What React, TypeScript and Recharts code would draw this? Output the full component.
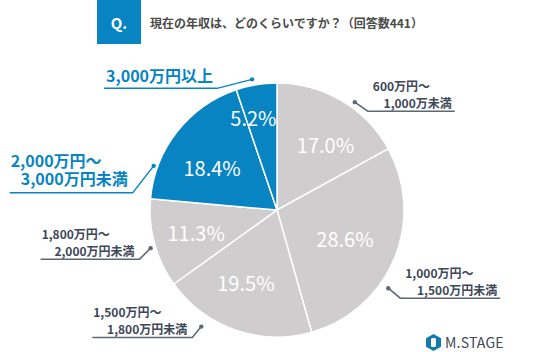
import React from 'react';
import { PieChart, Pie, Cell } from 'recharts';

// 年収分布（回答数441）
const categories = [
  ['600万円～', '1,000万未満'],
  ['1,000万円～', '1,500万円未満'],
  ['1,500万円～', '1,800万円未満'],
  ['1,800万円～', '2,000万円未満'],
  ['2,000万円～', '3,000万円未満'],
  ['3,000万円以上'],
];
const shares = [17.0, 28.6, 19.5, 11.3, 18.4, 5.2];
const highlighted = [false, false, false, false, true, true];

const BLUE = '#0784c1';
const GRAY = '#cfcdcd';
const LABEL_GRAY = '#3e4858';
const FONT = '"Noto Sans CJK JP", "Noto Sans", sans-serif';

const data = categories.map((c, i) => ({ name: c.join(''), value: shares[i] }));

// callout layout: dot angle (clockwise from top) and distance, elbow offset, line length
const callouts = [
  { angle: 35.8, dist: 133, elbow: [13, 9], len: 87 },
  { angle: 125.1, dist: 136, elbow: [12, 10], len: 100 },
  { angle: 213, dist: 139, elbow: [-9, 11], len: -100 },
  { angle: 253.2, dist: 132, elbow: [-11, 11], len: -99 },
  { angle: 289.7, dist: 131, elbow: [-21, 27], len: -123 },
  { angle: 349.2, dist: 133, elbow: [-35, 9], len: -113 },
];
// percent label radius factor / angle tweak
const pctPlace = [
  { r: 0.64, da: 6 },
  { r: 0.58, da: 0 },
  { r: 0.62, da: 4 },
  { r: 0.66, da: 0 },
  { r: 0.61, da: -5 },
  { r: 0.75, da: -5 },
];

const RAD = Math.PI / 180;

const renderLabel = (props: any) => {
  const { cx, cy, midAngle, outerRadius, index } = props;
  const p = pctPlace[index];
  const clock = 90 - midAngle + p.da;
  const px = cx + outerRadius * p.r * Math.sin(clock * RAD);
  const py = cy - outerRadius * p.r * Math.cos(clock * RAD);

  const c = callouts[index];
  const dx = cx + c.dist * Math.sin(c.angle * RAD);
  const dy = cy - c.dist * Math.cos(c.angle * RAD);
  const ex = dx + c.elbow[0];
  const ey = dy + c.elbow[1];
  const fx = ex + c.len;
  const blue = highlighted[index];
  const color = blue ? BLUE : LABEL_GRAY;
  const lineColor = blue ? BLUE : '#5f6773';
  const fs = blue ? 16 : 12;
  const lines = categories[index];
  const right = c.len > 0;
  const y1 = blue ? ey - 33 : ey - 26;
  const y2 = blue ? ey - 15 : ey - 9;

  return (
    <g>
      <text x={px} y={py} fill="#fff" fontSize={20} fontFamily={FONT} textAnchor="middle" dominantBaseline="central">
        {shares[index].toFixed(1)}%
      </text>
      <circle cx={dx} cy={dy} r={2.2} fill={lineColor} />
      <polyline points={`${dx},${dy} ${ex},${ey} ${fx},${ey}`} fill="none" stroke={lineColor} strokeWidth={1.5} />
      {lines.length === 1 ? (
        <text x={fx + 2} y={ey - 13} fill={color} fontSize={fs} fontWeight="bold" fontFamily={FONT} textAnchor="start" dominantBaseline="central">
          {lines[0]}
        </text>
      ) : (
        <>
          <text
            x={right ? ex + 5 : fx + 1}
            y={y1}
            fill={color}
            fontSize={fs}
            fontWeight="bold"
            fontFamily={FONT}
            textAnchor="start"
            dominantBaseline="central"
          >
            {lines[0]}
          </text>
          <text
            x={right ? fx - 3 : ex - 5}
            y={y2}
            fill={color}
            fontSize={fs}
            fontWeight="bold"
            fontFamily={FONT}
            textAnchor="end"
            dominantBaseline="central"
          >
            {lines[1]}
          </text>
        </>
      )}
    </g>
  );
};

const Logo = () => (
  <div style={{ position: 'absolute', left: 426, top: 334, height: 17, display: 'flex', alignItems: 'center', gap: 4 }}>
    <svg width={15} height={17} viewBox="0 0 15 17">
      <path d="M7.5 0 L15 4.25 L15 12.75 L7.5 17 L0 12.75 L0 4.25 Z" fill="#1479ad" />
      <rect x={5} y={4} width={5} height={9} rx={1.5} fill="#fff" />
    </svg>
    <span style={{ fontFamily: FONT, fontSize: 14, lineHeight: '17px', color: '#3e4858', letterSpacing: 0.2 }}>M.STAGE</span>
  </div>
);

export default function App() {
  return (
    <div style={{ position: 'absolute', left: 0, top: 0, width: 536, height: 352, background: '#fff', overflow: 'hidden' }}>
      <div
        style={{
          position: 'absolute',
          left: 97,
          top: 0,
          width: 44,
          height: 44,
          background: BLUE,
          color: '#fff',
          fontFamily: FONT,
          fontWeight: 'bold',
          fontSize: 15,
          display: 'flex',
          alignItems: 'center',
          justifyContent: 'center',
        }}
      >
        Q.
      </div>
      <div
        style={{
          position: 'absolute',
          left: 150,
          top: 14,
          fontFamily: FONT,
          fontSize: 12,
          fontWeight: 'bold',
          color: '#4a4a4a',
          lineHeight: '18px',
          whiteSpace: 'nowrap',
        }}
      >
        現在の年収は、どのくらいですか？（回答数441）
      </div>
      <div style={{ position: 'absolute', left: 0, top: 0 }}>
        <PieChart width={536} height={352} margin={{ top: 0, right: 0, bottom: 0, left: 0 }}>
          <Pie
            data={data}
            dataKey="value"
            cx={277}
            cy={210}
            outerRadius={127}
            startAngle={90}
            endAngle={-270}
            stroke="#fff"
            strokeWidth={1.5}
            labelLine={false}
            label={renderLabel}
            isAnimationActive={false}
          >
            {data.map((d, i) => (
              <Cell key={d.name} fill={highlighted[i] ? BLUE : GRAY} />
            ))}
          </Pie>
        </PieChart>
      </div>
      <Logo />
    </div>
  );
}
